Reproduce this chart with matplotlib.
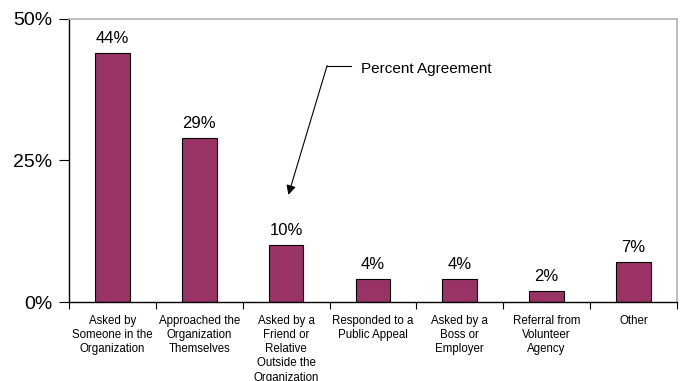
import matplotlib
matplotlib.use("Agg")
import matplotlib.pyplot as plt
from matplotlib.ticker import FuncFormatter

plt.rcParams['font.family'] = ['Liberation Sans', 'DejaVu Sans']

categories = [
    "Asked by\nSomeone in the\nOrganization",
    "Approached the\nOrganization\nThemselves",
    "Asked by a\nFriend or\nRelative\nOutside the\nOrganization",
    "Responded to a\nPublic Appeal",
    "Asked by a\nBoss or\nEmployer",
    "Referral from\nVolunteer\nAgency",
    "Other",
]
percents = [44, 29, 10, 4, 4, 2, 7]
y_ticks = [0, 25, 50]

bar_color = '#993366'

fig = plt.figure(figsize=(6.81, 3.81), dpi=100)
ax = fig.add_axes([0.1013, 0.2073, 0.8927, 0.7441])

centers = [i + 0.5 for i in range(len(categories))]
bars = ax.bar(centers, percents, width=0.4, color=bar_color,
              edgecolor='black', linewidth=0.8)

# value labels above each bar
for b, v in zip(bars, percents):
    ax.annotate(f"{v}%", (b.get_x() + b.get_width() / 2, v),
                xytext=(0, 5), textcoords='offset points',
                ha='center', va='bottom', fontsize=12)

ax.set_xlim(0, len(categories))
ax.set_ylim(0, 50)
ax.set_yticks(y_ticks)
ax.yaxis.set_major_formatter(FuncFormatter(lambda v, _: f"{v:.0f}%"))
ax.tick_params(axis='y', labelsize=14, length=7, width=0.8, pad=5)

# category boundaries get ticks, labels sit between them
ax.set_xticks(range(len(categories) + 1))
ax.set_xticklabels([])
ax.set_xticks(centers, minor=True)
ax.set_xticklabels(categories, minor=True, fontsize=8.3, linespacing=1.25)
ax.tick_params(axis='x', which='major', length=5, width=0.8)
ax.tick_params(axis='x', which='minor', length=0, pad=9)

for side in ['top', 'right']:
    ax.spines[side].set_color('#b4b4b4')
    ax.spines[side].set_linewidth(1.2)
for side in ['left', 'bottom']:
    ax.spines[side].set_color('black')
    ax.spines[side].set_linewidth(1.0)

# callout pointing at the third bar
ax.plot([2.972, 3.249], [41.7, 41.7], color='black', lw=0.8, clip_on=False)
ax.annotate('', xy=(2.526, 18.9), xytext=(2.972, 41.7),
            arrowprops=dict(arrowstyle='-|>', color='black', lw=0.8,
                            mutation_scale=14, shrinkA=0, shrinkB=0))
ax.text(3.368, 41.1, "Percent Agreement", fontsize=11, va='center', ha='left')

fig.savefig("out.png", dpi=100)
